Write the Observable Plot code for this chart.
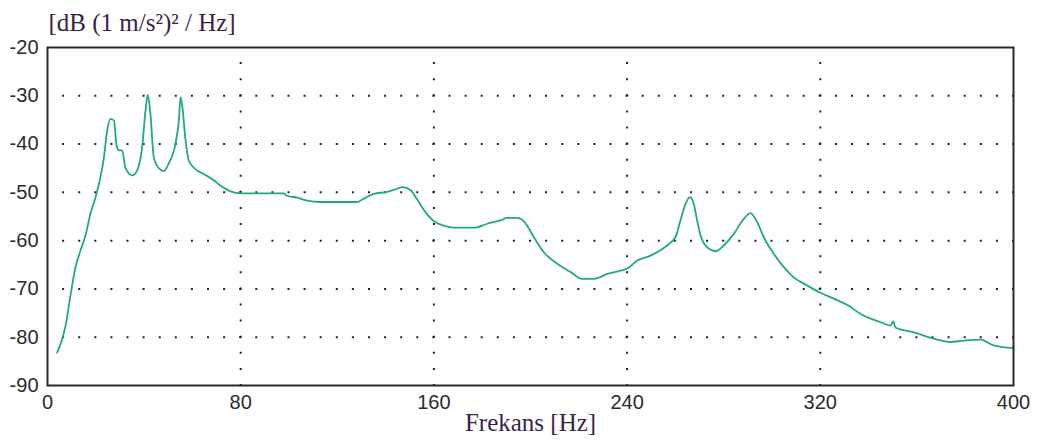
<!DOCTYPE html>
<html>
<head>
<meta charset="utf-8">
<script src="https://cdn.jsdelivr.net/npm/d3@7"></script>
<script src="https://cdn.jsdelivr.net/npm/@observablehq/plot@0.6"></script>
<style>
  html, body { margin: 0; padding: 0; background: #fff; }
  #chart svg { display: block; }
</style>
</head>
<body>
<div id="chart"></div>
<script>
// Acceleration power spectral density, 0–400 Hz
const freqHz = [
  4, 5.4, 7.5, 9.5, 11.6, 13.7, 15.7, 17.8, 19.9, 21.9, 23.3, 24.7, 26.1, 27.5,
  28.6, 29.5, 30.9, 32.3, 35.1, 37.1, 39.2, 40.6, 41.5, 42.6, 44, 46.1, 48.2,
  50.2, 53, 54.4, 55.1, 56, 57.1, 58.5, 60.6, 64.7, 68.9, 71.6, 75.8, 79.9, 90,
  97.8, 99.2, 103.4, 107.5, 113, 120, 128.2, 131, 135.1, 140.7, 143.4, 146.9,
  150.3, 153.1, 156.5, 160, 164.1, 168.2, 177.2, 182.1, 187.6, 190.4, 194.5,
  196.6, 198.6, 201.4, 205.5, 211.1, 216.6, 221.4, 226.2, 231.8, 237.3, 240,
  244.2, 249.7, 253.8, 257.3, 260, 262.1, 264.2, 266, 267.6, 269, 270.4, 273.2,
  276.6, 280, 284.2, 288.3, 291.1, 293.9, 296.6, 300.7, 304.9, 309, 314.6, 320,
  325.6, 331.8, 336.7, 345, 349.1, 350.2, 351.1, 358.7, 367, 373.9, 379.4,
  386.3, 391.8, 398.8, 400
];
const levelDb = [
  -83.2, -81.4, -77.6, -71.4, -65.5, -62, -59, -54.4, -51, -46.9, -43, -37.2, -34.8, -35.1,
  -40.3, -41.3, -41.3, -45, -46.5, -45.5, -40.6, -33, -29.8, -33.7, -42.7, -45, -45.6,
  -44, -39.9, -35.1, -30.3, -33, -38.9, -43.4, -44.9, -46.2, -47.5, -48.6, -49.8, -50.2, -50.2,
  -50.2, -50.7, -51.1, -51.7, -52, -52, -52, -51.3, -50.3, -49.9, -49.5, -48.9,
  -49.5, -51.5, -54.1, -56, -56.9, -57.3, -57.3, -56.5, -55.8, -55.3, -55.3,
  -55.7, -56.9, -59.3, -62.4, -64.8, -66.5, -67.9, -67.9, -66.9, -66.2, -65.8,
  -64.1, -63.1, -62, -60.7, -59.3, -55.8, -52.4, -51, -52.4, -55.8, -58.9, -61.4,
  -62.2, -61, -58.6, -55.5, -54.3, -56.2, -59.3, -62.7, -65.5, -67.6, -69.3, -70.8,
  -72, -73.5, -75.2, -76.9, -77.6, -76.7, -78, -79, -80.3, -81, -80.7,
  -80.5, -81.7, -82.2, -82.2
];
const xTicks = [0, 80, 160, 240, 320, 400];
const yTicks = [-20, -30, -40, -50, -60, -70, -80, -90];
const xGrid = [80, 160, 240, 320];
const yGrid = [-30, -40, -50, -60, -70, -80];
const yTitle = "[dB (1 m/s²)² / Hz]";
const xTitle = "Frekans [Hz]";

const spectrum = freqHz.map((f, i) => ({f, db: levelDb[i]}));

const W = 1039, H = 446;
const mL = 47, mR = 26, mT = 47, mB = 61;
// dotted grid: one dot every 1/12 of a major interval
const dotStepX = (W - mL - mR) / 60;
const dotStepY = (H - mT - mB) / 21;

const tickFont = "'Liberation Sans', Arial, sans-serif";
const titleFont = "'Liberation Serif', 'Times New Roman', serif";
const titleColor = "#3b1f4a";

const chart = Plot.plot({
  width: W,
  height: H,
  marginLeft: mL,
  marginRight: mR,
  marginTop: mT,
  marginBottom: mB,
  style: {background: "#fff", color: "#2b2b2b", overflow: "visible"},
  x: {domain: [0, 400]},
  y: {domain: [-90, -20]},
  marks: [
    Plot.ruleY(yGrid, {stroke: "#222", strokeWidth: 2, strokeDasharray: `2 ${dotStepX - 2}`, strokeDashoffset: 1}),
    Plot.ruleX(xGrid, {stroke: "#222", strokeWidth: 2, strokeDasharray: `2 ${dotStepY - 2}`, strokeDashoffset: 1}),
    Plot.line(spectrum, {x: "f", y: "db", stroke: "#22a97f", strokeWidth: 1.8, curve: "monotone-x"}),
    Plot.frame({stroke: "#2a2a2a", strokeWidth: 2}),
    Plot.axisY(yTicks, {
      tickSize: 0, tickPadding: 9, label: null,
      tickFormat: d => `${d}`,
      fontSize: 20, fontFamily: tickFont
    }),
    Plot.axisX(xTicks, {
      tickSize: 0, tickPadding: 9, label: null,
      tickFormat: d => `${d}`,
      fontSize: 20, fontFamily: tickFont
    }),
    Plot.text([yTitle], {
      frameAnchor: "top-left", textAnchor: "start", dx: 1, dy: -34,
      fontSize: 25, fontFamily: titleFont, fill: titleColor
    }),
    Plot.text([xTitle], {
      frameAnchor: "bottom", dy: 45,
      fontSize: 25, fontFamily: titleFont, fill: titleColor
    })
  ]
});

document.getElementById("chart").append(chart);
</script>
</body>
</html>
